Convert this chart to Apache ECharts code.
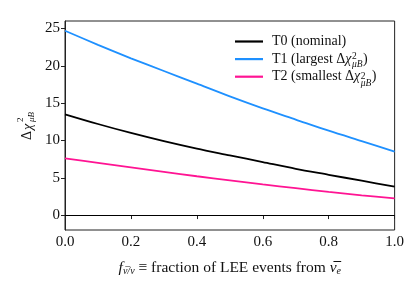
<!DOCTYPE html>
<html><head><meta charset="utf-8">
<script src="https://cdn.jsdelivr.net/npm/echarts@6/dist/echarts.min.js"></script>
<style>html,body{margin:0;padding:0;background:#fff}#c{width:407px;height:281px}</style>
</head><body><div id="c"></div>
<script>
var xs = [0, 0.1, 0.2, 0.3, 0.4, 0.5, 0.6, 0.7, 0.8, 0.9, 1.0];
var t0 = [13.5, 12.2, 11.0, 9.9, 8.9, 8.0, 7.1, 6.2, 5.4, 4.6, 3.8];
var t1 = [24.7, 22.8, 21.0, 19.3, 17.6, 15.9, 14.3, 12.8, 11.3, 9.9, 8.5];
var t2 = [7.6, 7.0, 6.4, 5.8, 5.2, 4.65, 4.1, 3.6, 3.1, 2.65, 2.25];
var yTicks = [0, 5, 10, 15, 20, 25];
var xTicks = [0, 0.2, 0.4, 0.6, 0.8, 1.0];
var names = ['T0', 'T1', 'T2'];
var legendPrefix = ['T0 (nominal)', 'T1 (largest Δ', 'T2 (smallest Δ'];
var colors = ['#000000', '#1e90ff', '#ff1493'];

var FONT = 'Liberation Serif';
var LFS = 14;
var LEG_LEFT = 235, LEG_TOP = 34.5, ITEM_W = 28, ROW = 19.6, TXT_GAP = 9, ITEM_H = 16;
var SUBF = 'italic 9.5px "' + FONT + '"';

function pairs(v){ return xs.map(function(x,i){ return [x, v[i]]; }); }
var mctx = document.createElement('canvas').getContext('2d');
function tw(t, f){ mctx.font = f; return mctx.measureText(t).width; }
var subW = tw('μB', SUBF) + 1;

var chart = echarts.init(document.getElementById('c'), null, {renderer:'canvas'});
var series = [t0, t1, t2].map(function(v, i){
  return {
    name: names[i], type: 'line', data: pairs(v), smooth: 0.3, symbol: 'none',
    lineStyle: {color: colors[i], width: 1.8}, itemStyle: {color: colors[i]},
    z: 3
  };
});
series[0].markLine = {
  silent: true, symbol: 'none', label: {show: false},
  lineStyle: {color: '#000', width: 1, type: 'solid'},
  data: [{yAxis: 0}]
};

var scriptGraphics = [];
[1, 2].forEach(function(i){
  var x = LEG_LEFT + ITEM_W + TXT_GAP +
    tw(legendPrefix[i], LFS + 'px "' + FONT + '"') +
    tw('χ', 'italic ' + LFS + 'px "' + FONT + '"') + 0.5;
  var yc = LEG_TOP + 6 + i * ROW;
  scriptGraphics.push({type: 'text', x: x, y: yc - 8.5,
    style: {text: '2', font: '9.5px "' + FONT + '"', fill: '#111', textVerticalAlign: 'top'}});
  scriptGraphics.push({type: 'text', x: x, y: yc - 1,
    style: {text: 'μB', font: SUBF, fill: '#111', textVerticalAlign: 'top'}});
});

chart.setOption({
  animation: false,
  grid: {left: 65, right: 12, top: 21, bottom: 45, show: true, borderColor: '#222', borderWidth: 1},
  xAxis: {
    type: 'value', min: 0, max: 1,
    axisLine: {show: true, lineStyle: {color: '#222'}},
    axisTick: {show: true, inside: false, length: 4, lineStyle: {color: '#222'}, customValues: xTicks},
    axisLabel: {fontFamily: FONT, fontSize: 15, color: '#111', margin: 5, customValues: xTicks,
      formatter: function(v){ return v.toFixed(1); }},
    splitLine: {show: false},
    name: '{i|f}{s|ν̅/ν}{n| ≡ fraction of LEE events from }{i|ν̅}{s|e}',
    nameLocation: 'middle', nameGap: 30,
    nameTextStyle: {rich: {
      i: {fontFamily: FONT, fontStyle: 'italic', fontSize: 15.5, color: '#111'},
      n: {fontFamily: FONT, fontSize: 15.5, color: '#111'},
      s: {fontFamily: FONT, fontStyle: 'italic', fontSize: 10, color: '#111', verticalAlign: 'bottom'}
    }}
  },
  yAxis: {
    type: 'value', min: -2, max: 26,
    axisLine: {show: true, lineStyle: {color: '#222'}},
    axisTick: {show: true, inside: false, length: 4, lineStyle: {color: '#222'}, customValues: yTicks},
    axisLabel: {fontFamily: FONT, fontSize: 15, color: '#111', margin: 5, customValues: yTicks},
    splitLine: {show: false}
  },
  legend: {
    orient: 'vertical', left: LEG_LEFT, top: LEG_TOP, itemGap: ROW - ITEM_H, padding: 0,
    icon: 'rect', itemWidth: ITEM_W, itemHeight: 2.2,
    data: names,
    formatter: function(n){
      var i = names.indexOf(n);
      if (i === 0) return '{g|}{n|' + legendPrefix[0] + '}';
      return '{g|}{n|' + legendPrefix[i] + '}{i|χ}{w|}{n|)}';
    },
    textStyle: {rich: {
      g: {width: TXT_GAP - 5, lineHeight: ITEM_H},
      w: {width: subW, lineHeight: ITEM_H},
      n: {fontFamily: FONT, fontSize: LFS, color: '#111', lineHeight: ITEM_H},
      i: {fontFamily: FONT, fontStyle: 'italic', fontSize: LFS, color: '#111', lineHeight: ITEM_H}
    }}
  },
  graphic: scriptGraphics.concat([
    {type: 'group', x: 27, y: 124, rotation: Math.PI/2, children: [
      {type: 'text', x: -16, y: 0, style: {text: 'Δ', font: '14px "Liberation Serif"', fill: '#111', textVerticalAlign: 'middle'}},
      {type: 'text', x: -6, y: 1, style: {text: 'χ', font: 'italic 14px "Liberation Serif"', fill: '#111', textVerticalAlign: 'middle'}},
      {type: 'text', x: 2, y: -6, style: {text: '2', font: '9px "Liberation Serif"', fill: '#111', textVerticalAlign: 'middle'}},
      {type: 'text', x: 2, y: 5, style: {text: 'μB', font: 'italic 9px "Liberation Serif"', fill: '#111', textVerticalAlign: 'middle'}}
    ]}
  ]),
  series: series
});
</script></body></html>
